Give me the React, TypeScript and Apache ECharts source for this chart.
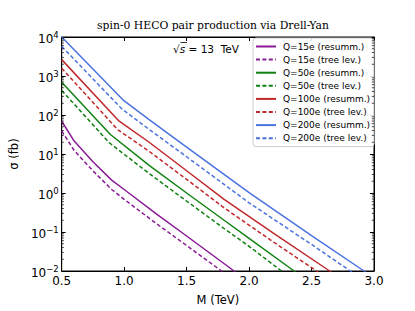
import React, { useEffect, useRef } from "react";
import * as echarts from "echarts";

// ---- data ----
const M_Q15_RES = [0.5, 0.6, 0.75, 0.9, 1.0, 1.26, 1.5, 1.88, 2.2];
const S_Q15_RES = [69.2, 21.4, 6.3, 2.14, 1.23, 0.288, 0.079, 0.010, 0.0018];
const M_Q15_TREE = [0.5, 0.6, 0.75, 0.9, 1.0, 1.26, 1.5, 1.78, 2.2];
const S_Q15_TREE = [38.9, 12.3, 3.7, 1.23, 0.69, 0.162, 0.045, 0.010, 0.001];

const M_Q50_RES = [0.5, 0.89, 1.2, 1.5, 1.8, 2.0, 2.36, 2.8];
const S_Q50_RES = [692, 31.6, 5.1, 1.0, 0.2, 0.069, 0.010, 0.001];
const M_Q50_TREE = [0.5, 0.88, 1.2, 1.5, 1.8, 2.0, 2.26, 2.7];
const S_Q50_TREE = [427, 19.5, 3.16, 0.62, 0.123, 0.043, 0.010, 0.001];

const M_Q100_RES = [0.5, 0.96, 1.2, 1.5, 1.8, 2.2, 2.645, 3.0];
const S_Q100_RES = [2630, 69.2, 20.0, 3.72, 0.69, 0.091, 0.010, 0.00166];
const M_Q100_TREE = [0.5, 0.95, 1.2, 1.5, 1.8, 2.2, 2.54, 3.0];
const S_Q100_TREE = [1585, 41.7, 11.7, 2.24, 0.417, 0.054, 0.010, 0.001];

const M_Q200_RES = [0.5, 0.99, 1.2, 1.5, 2.0, 2.5, 2.92, 3.0];
const S_Q200_RES = [10000, 245, 75.9, 15.1, 1.02, 0.081, 0.010, 0.0066];
const M_Q200_TREE = [0.5, 0.98, 1.2, 1.5, 2.0, 2.5, 2.81, 3.0];
const S_Q200_TREE = [5750, 145, 42.7, 8.5, 0.56, 0.048, 0.010, 0.0038];

const SERIES_NAMES = [
  "Q=15e (resumm.)",
  "Q=15e (tree lev.)",
  "Q=50e (resumm.)",
  "Q=50e (tree lev.)",
  "Q=100e (resumm.)",
  "Q=100e (tree lev.)",
  "Q=200e (resumm.)",
  "Q=200e (tree lev.)",
];
const SERIES_M = [M_Q15_RES, M_Q15_TREE, M_Q50_RES, M_Q50_TREE, M_Q100_RES, M_Q100_TREE, M_Q200_RES, M_Q200_TREE];
const SERIES_S = [S_Q15_RES, S_Q15_TREE, S_Q50_RES, S_Q50_TREE, S_Q100_RES, S_Q100_TREE, S_Q200_RES, S_Q200_TREE];
const SERIES_DASHED = [false, true, false, true, false, true, false, true];
const SERIES_COLORS = ["#8a1a96", "#8a1a96", "#118211", "#118211", "#c0282a", "#c0282a", "#4a72e0", "#4a72e0"];

const X_MIN = 0.5;
const X_MAX = 3.0;
const X_STEP = 0.5;
const Y_MIN = 0.01;
const Y_MAX = 10000;
const MINOR_DECADES = [-2, -1, 0, 1, 2, 3];
const MINOR_MULTIPLIERS = [2, 3, 4, 5, 6, 7, 8, 9];

const TITLE = "spin-0 HECO pair production via Drell-Yan";
const X_NAME = "M (TeV)";
const Y_NAME = "σ (fb)";

const FONT = "DejaVu Sans";

export default function App() {
  const ref = useRef<HTMLDivElement>(null);
  useEffect(() => {
    if (!ref.current) return;
    const chart = echarts.init(ref.current, undefined, { renderer: "svg" });

    const minorData: number[][] = [];
    MINOR_DECADES.forEach((d) =>
      MINOR_MULTIPLIERS.forEach((m) => minorData.push([X_MIN, m * Math.pow(10, d)]))
    );

    const lineSeries = SERIES_NAMES.map((name, i) => ({
      name,
      type: "line",
      data: SERIES_M[i].map((m, j) => [m, SERIES_S[i][j]]),
      symbol: "none",
      clip: true,
      lineStyle: {
        color: SERIES_COLORS[i],
        width: 1.5,
        type: SERIES_DASHED[i] ? [4, 2.4] : "solid",
      },
      itemStyle: { color: SERIES_COLORS[i] },
      z: 3,
    }));

    const yLabelFmt = (v: number) => {
      const e = Math.round(Math.log10(v));
      const es = e < 0 ? "\u2212" + Math.abs(e) : String(e);
      return `{b|10}{s|${es}}`;
    };
    const yRich = {
      b: { fontSize: 12, fontFamily: FONT, color: "#000", padding: [4, 0, 0, 0] },
      s: { fontSize: 8.5, fontFamily: FONT, color: "#000", padding: [0, 0, 4, 0] },
    };

    chart.setOption({
      animation: false,
      backgroundColor: "#fff",
      grid: {
        left: 52,
        right: 41,
        top: 37,
        bottom: 34.5,
        show: true,
        borderColor: "#000",
        borderWidth: 1,
        backgroundColor: "transparent",
      },
      legend: {
        data: SERIES_NAMES,
        orient: "vertical",
        left: 253,
        top: 38,
        itemWidth: 20,
        itemHeight: 9,
        itemGap: 4.1,
        padding: [4, 4, 4, 2],
        backgroundColor: "rgba(255,255,255,0.85)",
        borderColor: "#cccccc",
        borderWidth: 1,
        borderRadius: 3,
        itemStyle: { opacity: 0 },
        textStyle: { fontFamily: FONT, fontSize: 9, color: "#000", padding: [0, 0, 0, 2] },
      },
      graphic: [
        {
          type: "text",
          x: 213,
          y: 25,
          style: {
            text: TITLE,
            font: "10.8px 'DejaVu Serif'",
            fill: "#000",
            textAlign: "center",
            textVerticalAlign: "middle",
          },
        },
        {
          type: "text",
          x: 173,
          y: 49,
          style: {
            text: "{r|√}{i|s} = 13  TeV",
            rich: {
              r: { fontFamily: FONT, fontSize: 10.5, fill: "#000" },
              i: { fontFamily: FONT, fontSize: 10.5, fontStyle: "italic", fill: "#000" },
            },
            fontFamily: FONT,
            fontSize: 10.5,
            fill: "#000",
            textVerticalAlign: "middle",
          },
        },
        {
          type: "line",
          shape: { x1: 180.5, y1: 42.5, x2: 187, y2: 42.5 },
          style: { stroke: "#000", lineWidth: 0.8 },
        },
      ],
      xAxis: [
        {
          type: "value",
          min: X_MIN,
          max: X_MAX,
          interval: X_STEP,
          name: X_NAME,
          nameLocation: "middle",
          nameGap: 23,
          nameTextStyle: { fontFamily: FONT, fontSize: 11.5, color: "#000" },
          axisLine: { lineStyle: { color: "#000", width: 1 } },
          axisTick: { inside: true, length: 4, lineStyle: { color: "#000" } },
          axisLabel: {
            margin: 4,
            fontFamily: FONT,
            fontSize: 12,
            color: "#000",
            formatter: (v: number) => v.toFixed(1),
          },
          splitLine: { show: false },
        },
        {
          type: "value",
          position: "top",
          min: X_MIN,
          max: X_MAX,
          interval: X_STEP,
          axisLine: { lineStyle: { color: "#000", width: 1 } },
          axisTick: { inside: true, length: 4, lineStyle: { color: "#000" } },
          axisLabel: { show: false },
          splitLine: { show: false },
        },
      ],
      yAxis: [
        {
          type: "log",
          logBase: 10,
          min: Y_MIN,
          max: Y_MAX,
          splitNumber: 6,
          name: Y_NAME,
          nameLocation: "middle",
          nameGap: 38,
          nameRotate: 90,
          nameTextStyle: { fontFamily: FONT, fontSize: 11.5, color: "#000" },
          axisLine: { show: true, lineStyle: { color: "#000", width: 1 } },
          axisTick: { inside: true, length: 4, lineStyle: { color: "#000" } },
          axisLabel: { margin: 3, formatter: yLabelFmt, rich: yRich },
          splitLine: { show: false },
        },
        {
          type: "log",
          logBase: 10,
          min: Y_MIN,
          max: Y_MAX,
          splitNumber: 6,
          position: "right",
          axisLine: { show: true, lineStyle: { color: "#000", width: 1 } },
          axisTick: { inside: true, length: 4, lineStyle: { color: "#000" } },
          axisLabel: { show: false },
          splitLine: { show: false },
        },
      ],
      series: [
        ...lineSeries,
        {
          type: "custom",
          name: "minorTicks",
          silent: true,
          clip: false,
          data: minorData,
          renderItem: (params: any, api: any) => {
            const v = api.value(1);
            const pl = api.coord([X_MIN, v]);
            const pr = api.coord([X_MAX, v]);
            return {
              type: "group",
              children: [
                {
                  type: "line",
                  shape: { x1: pl[0], y1: pl[1], x2: pl[0] + 2.2, y2: pl[1] },
                  style: { stroke: "#000", lineWidth: 0.7 },
                },
                {
                  type: "line",
                  shape: { x1: pr[0] - 2.2, y1: pr[1], x2: pr[0], y2: pr[1] },
                  style: { stroke: "#000", lineWidth: 0.7 },
                },
              ],
            };
          },
          z: 4,
        },
      ],
    });
    return () => chart.dispose();
  }, []);
  return (
    <div
      ref={ref}
      style={{ position: "absolute", left: 0, top: 0, width: 415, height: 311 }}
    />
  );
}
